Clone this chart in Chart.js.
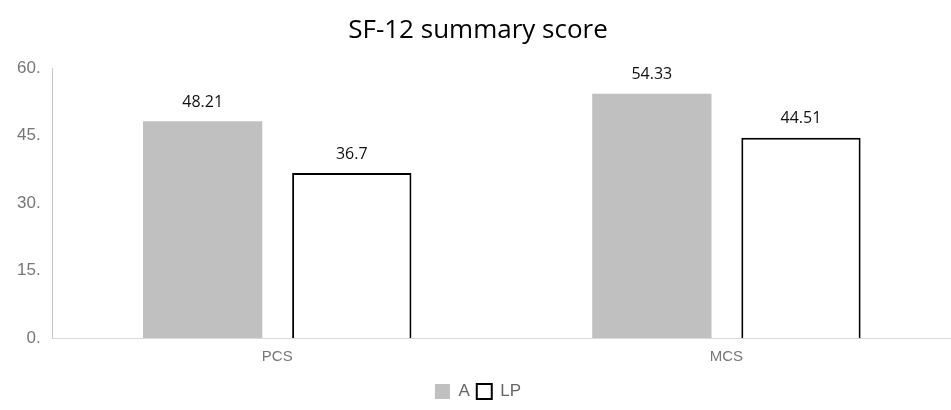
<!DOCTYPE html>
<html>
<head>
<meta charset="utf-8">
<script src="https://cdn.jsdelivr.net/npm/chart.js@4"></script>
<style>
  body { margin: 0; background: #fff; }
  #wrap { width: 951px; height: 410px; }
</style>
</head>
<body>
<div id="wrap"><canvas id="chart" width="951" height="410"></canvas></div>
<script>
const categories = ['PCS', 'MCS'];
const seriesA = [48.21, 54.33];
const seriesLP = [36.7, 44.51];
const yTicks = [0, 15, 30, 45, 60];

// étiquettes de valeur au-dessus des barres
const valueLabels = {
  id: 'valueLabels',
  afterDatasetsDraw(chart) {
    const ctx = chart.ctx;
    ctx.save();
    ctx.font = '16px "Open Sans", sans-serif';
    ctx.fillStyle = '#111';
    ctx.textAlign = 'center';
    ctx.textBaseline = 'bottom';
    chart.data.datasets.forEach((ds, i) => {
      chart.getDatasetMeta(i).data.forEach((bar, j) => {
        ctx.fillText(String(ds.data[j]), bar.x, bar.y - 11);
      });
    });
    ctx.restore();
  }
};

new Chart(document.getElementById('chart').getContext('2d'), {
  type: 'bar',
  data: {
    labels: categories,
    datasets: [
      {
        label: 'A',
        data: seriesA,
        backgroundColor: '#c0c0c0',
        borderWidth: 0,
      },
      {
        label: 'LP',
        data: seriesLP,
        backgroundColor: '#ffffff',
        borderColor: '#000000',
        borderWidth: 2,
      },
    ],
  },
  options: {
    responsive: false,
    animation: false,
    categoryPercentage: 0.664,
    barPercentage: 0.8,
    layout: { padding: { left: 5, right: 0, top: 0, bottom: 0 } },
    plugins: {
      title: {
        display: true,
        text: 'SF-12 summary score',
        color: '#000',
        font: { family: '"Open Sans", sans-serif', size: 26, weight: 'normal' },
        padding: { top: 15, bottom: 22 },
      },
      legend: {
        position: 'bottom',
        labels: {
          color: '#666',
          font: { family: '"Liberation Sans", Arial, sans-serif', size: 17 },
          boxWidth: 15,
          boxHeight: 15,
          padding: 7,
        },
      },
      tooltip: { enabled: false },
    },
    scales: {
      x: {
        grid: { display: false, drawTicks: false },
        border: { color: '#d9d9d9', width: 1 },
        ticks: {
          color: '#777',
          font: { family: '"Liberation Sans", Arial, sans-serif', size: 15 },
          padding: 10,
        },
      },
      y: {
        min: 0,
        max: 60,
        afterBuildTicks: (axis) => { axis.ticks = yTicks.map(v => ({ value: v })); },
        grid: { display: false, drawTicks: false },
        border: { color: '#c8c8c8', width: 1 },
        ticks: {
          color: '#777',
          font: { family: '"Liberation Sans", Arial, sans-serif', size: 17 },
          padding: 12,
          callback: (v) => v + '.',
        },
      },
    },
  },
  plugins: [valueLabels],
});
</script>
</body>
</html>
